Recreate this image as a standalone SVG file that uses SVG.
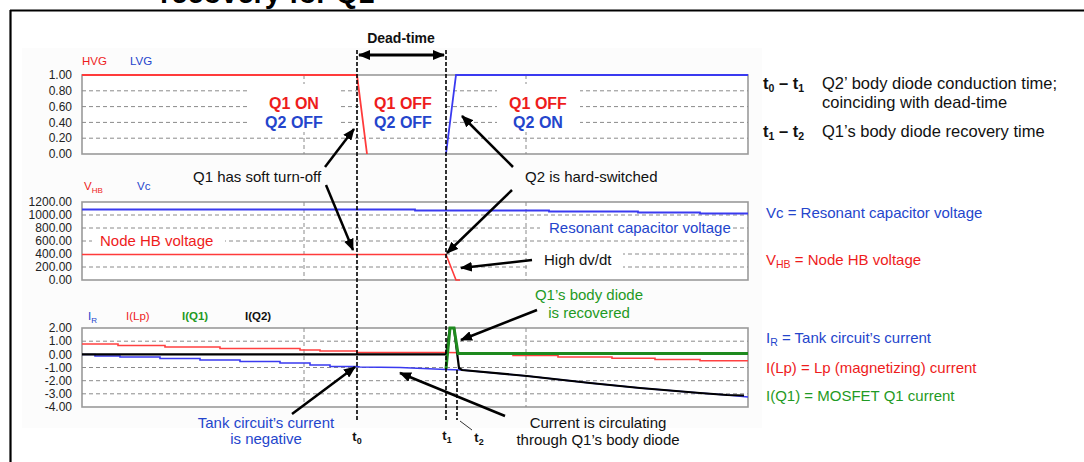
<svg xmlns="http://www.w3.org/2000/svg" width="1084" height="462" viewBox="0 0 1084 462">
  <defs>
    <style>
      .sans{font-family:"Liberation Sans",Arial,Helvetica,sans-serif}
      .tick{font-family:"Liberation Sans",Arial,sans-serif;font-size:12px;fill:#222;text-anchor:end}
      .ser{font-family:"Liberation Sans",Arial,sans-serif;font-size:11.5px}
      .lbl{font-family:"Liberation Sans",Arial,sans-serif;font-size:15px}
      .note{font-family:"Liberation Sans",Arial,sans-serif;font-size:16.5px;fill:#111}
      .state{font-family:"Liberation Sans",Arial,sans-serif;font-size:16px;font-weight:bold;text-anchor:middle}
      .plot{fill:#fff;stroke:#9a9a9a;stroke-width:1.6}
      .grid{stroke:#8a8a8a;stroke-width:1;stroke-dasharray:4 3;fill:none}
      .mask{fill:#fff}
      .arrow{stroke:#000;stroke-width:2.5;fill:none;marker-end:url(#ah)}
      .tline{stroke:#000;stroke-width:1.6;stroke-dasharray:4 2;fill:none}
      .red{fill:#ee1c1c}
      .blue{fill:#2445cc}
      .green{fill:#1f9a24}
      .blk{fill:#111}
    </style>
    <marker id="ah" viewBox="0 0 12 10" refX="11" refY="5" markerWidth="4.8" markerHeight="4" orient="auto" markerUnits="strokeWidth">
      <path d="M0,0 L12,5 L0,10 z" fill="#000"/>
    </marker>
    <marker id="ah2" viewBox="0 0 12 10" refX="11" refY="5" markerWidth="4" markerHeight="3.4" orient="auto-start-reverse" markerUnits="strokeWidth">
      <path d="M0,0 L12,5 L0,10 z" fill="#000"/>
    </marker>
  </defs>

  <rect width="1084" height="462" fill="#fff"/>

  <!-- caption (runs off the top edge) and page frame -->
  <text class="sans" x="160" y="2.5" font-size="29" font-weight="bold" fill="#000">recovery for Q1</text>
  <path d="M10,10.5 H1084 M10.5,10 V462" stroke="#000" stroke-width="2.2" fill="none"/>

  <!-- chart background -->
  <rect x="22" y="48" width="740" height="380" fill="#fcfcfc"/>

  <!-- gate drive panel -->
  <g id="panel-gate">
    <rect class="plot" x="82" y="75" width="666" height="79"/>
    <path class="grid" d="M82,90.8H748 M82,106.6H748 M82,122.4H748 M82,138.2H748 M304,75V154 M526,75V154"/>
    <rect class="mask" x="250" y="84" width="88" height="48"/>
    <rect class="mask" x="359" y="84" width="86" height="48"/>
    <rect class="mask" x="497" y="84" width="83" height="48"/>
    <g class="tick">
      <text x="72" y="79">1.00</text>
      <text x="72" y="95">0.80</text>
      <text x="72" y="110.5">0.60</text>
      <text x="72" y="126.5">0.40</text>
      <text x="72" y="142">0.20</text>
      <text x="72" y="158">0.00</text>
    </g>
    <text class="ser red" x="82" y="65">HVG</text>
    <text class="ser blue" x="130" y="65">LVG</text>
    <polyline points="82,75 357,75 367,154" fill="none" stroke="#ff3b3b" stroke-width="1.8"/>
    <polyline points="446,154 456,75 748,75" fill="none" stroke="#3a3af0" stroke-width="1.8"/>
  </g>

  <!-- bridge voltage panel -->
  <g id="panel-voltage">
    <rect class="plot" x="82" y="202" width="666" height="78"/>
    <path class="grid" d="M82,215H748 M82,228H748 M82,241H748 M446,254H748 M82,267H748 M304,202V280 M526,202V280"/>
    <rect class="mask" x="92" y="233" width="133" height="16"/>
    <rect class="mask" x="540" y="220" width="190" height="15"/>
    <rect class="mask" x="527" y="249" width="96" height="24"/>
    <g class="tick">
      <text x="72" y="206">1200.00</text>
      <text x="72" y="219">1000.00</text>
      <text x="72" y="232">800.00</text>
      <text x="72" y="245">600.00</text>
      <text x="72" y="258">400.00</text>
      <text x="72" y="271">200.00</text>
      <text x="72" y="284">0.00</text>
    </g>
    <text class="ser red" x="84" y="190">V<tspan font-size="8" dy="3">HB</tspan></text>
    <text class="ser blue" x="137" y="190">Vc</text>
    <polyline points="82,209.5 415,209.5 415,210.5 549,210.5 549,211.5 638,211.5 638,212.5 700,212.5 700,213.5 748,213.5" fill="none" stroke="#3a3af0" stroke-width="1.8"/>
    <polyline points="82,254.5 446,254.5 456,280 460,280" fill="none" stroke="#ff3b3b" stroke-width="1.6"/>
  </g>

  <!-- current panel -->
  <g id="panel-current">
    <rect class="plot" x="82" y="328" width="666" height="79"/>
    <path class="grid" d="M82,341.2H748 M82,367.5H748 M82,380.7H748 M82,393.8H748 M304,328V407 M526,328V407"/>
    <g class="tick">
      <text x="72" y="332">2.00</text>
      <text x="72" y="345">1.00</text>
      <text x="72" y="358.5">0.00</text>
      <text x="72" y="371.5">-1.00</text>
      <text x="72" y="384.5">-2.00</text>
      <text x="72" y="398">-3.00</text>
      <text x="72" y="411">-4.00</text>
    </g>
    <text class="ser blue" x="88" y="320">I<tspan font-size="8" dy="3">R</tspan></text>
    <text class="ser red" x="126" y="320">I(Lp)</text>
    <text class="ser green" x="182" y="320" font-weight="bold">I(Q1)</text>
    <text class="ser blk" x="245" y="320" font-weight="bold">I(Q2)</text>
    <!-- I(Lp) -->
    <polyline points="82,344 118,344 118,345.5 165,345.5 165,347 220,347 220,348.5 300,348.5 300,350 320,350 320,351 357,351 357,352.5 446,352.5 513,353.5 513,355.5 558,355.5 558,357 612,357 612,358.3 655,358.3 655,359.5 700,359.5 700,360.7 748,360.7" fill="none" stroke="#ff4040" stroke-width="1.6"/>
    <!-- I_R -->
    <polyline points="82,354.5 95,354.5 95,356 120,356 120,357 160,357 160,358.5 200,358.5 200,360 240,360 240,361.5 280,361.5 280,363 310,363 310,365 330,365 330,366.5 357,366.5 360,367 400,367.5 446,369.5 462,370 527,376 590,383 640,388 700,393 727,395 748,397" fill="none" stroke="#3a3af0" stroke-width="1.6"/>
    <!-- I(Q2) -->
    <polyline points="82,354.3 446,354.3 450,328 454,328 459,368 462,370 527,376 590,383 640,388 700,393 727,395 744,395.5" fill="none" stroke="#000" stroke-width="2.2"/>
    <!-- I(Q1) -->
    <polyline points="446,369 450,328 454,328 458,353.5 748,353.5" fill="none" stroke="#1e8a1e" stroke-width="3"/>
  </g>

  <!-- interval markers and annotation arrows -->
  <g id="connectors">
    <path class="tline" d="M357,50V422 M446,50V420 M457,370V420"/>
    <path d="M460,421 L472,430" stroke="#000" stroke-width="0.8" fill="none"/>
    <line x1="359" y1="55" x2="444" y2="55" stroke="#000" stroke-width="3" marker-start="url(#ah2)" marker-end="url(#ah2)"/>
    <line class="arrow" x1="325" y1="167" x2="354" y2="129"/>
    <line class="arrow" x1="326" y1="185" x2="353" y2="250"/>
    <line class="arrow" x1="513" y1="167" x2="462" y2="116"/>
    <line class="arrow" x1="512" y1="190" x2="447" y2="253"/>
    <line class="arrow" x1="532" y1="260" x2="461" y2="268"/>
    <line class="arrow" x1="537" y1="310" x2="461" y2="340"/>
    <line class="arrow" x1="292" y1="414" x2="355" y2="367"/>
    <line class="arrow" x1="505" y1="416" x2="400" y2="373"/>
  </g>

  <!-- switch state labels -->
  <g id="state-q1on">
    <text class="state" x="294" y="109" fill="#ee1c1c">Q1 ON</text>
    <text class="state" x="294" y="128" fill="#2445cc">Q2 OFF</text>
  </g>
  <g id="state-deadtime">
    <text class="state" x="403" y="109" fill="#ee1c1c">Q1 OFF</text>
    <text class="state" x="403" y="128" fill="#2445cc">Q2 OFF</text>
  </g>
  <g id="state-q2on">
    <text class="state" x="538" y="109" fill="#ee1c1c">Q1 OFF</text>
    <text class="state" x="538" y="128" fill="#2445cc">Q2 ON</text>
  </g>

  <g id="label-deadtime">
    <text class="sans" x="401" y="43" font-size="14" font-weight="bold" text-anchor="middle" fill="#111">Dead-time</text>
  </g>

  <!-- annotations -->
  <g id="note-soft"><text class="lbl blk" x="193" y="182">Q1 has soft turn-off</text></g>
  <g id="note-hard"><text class="lbl blk" x="525" y="182">Q2 is hard-switched</text></g>
  <g id="note-node"><text class="lbl red" x="100" y="246">Node HB voltage</text></g>
  <g id="note-res"><text class="lbl blue" x="549" y="233">Resonant capacitor voltage</text></g>
  <g id="note-dvdt"><text class="lbl blk" x="544" y="265">High dv/dt</text></g>
  <g id="note-recovered">
    <text class="lbl green" x="589" y="300" text-anchor="middle">Q1’s body diode</text>
    <text class="lbl green" x="589" y="318" text-anchor="middle">is recovered</text>
  </g>
  <g id="note-negative">
    <text class="lbl blue" x="266" y="428" text-anchor="middle">Tank circuit’s current</text>
    <text class="lbl blue" x="266" y="444" text-anchor="middle">is negative</text>
  </g>
  <g id="note-circulating">
    <text class="lbl blk" x="598" y="428" text-anchor="middle">Current is circulating</text>
    <text class="lbl blk" x="598" y="445" text-anchor="middle">through Q1’s body diode</text>
  </g>

  <!-- time instants -->
  <g id="t0"><text class="sans blk" x="357" y="441" font-size="13" font-weight="bold" text-anchor="middle">t<tspan font-size="9" dy="3">0</tspan></text></g>
  <g id="t1"><text class="sans blk" x="447" y="440" font-size="13" font-weight="bold" text-anchor="middle">t<tspan font-size="9" dy="3">1</tspan></text></g>
  <g id="t2"><text class="sans blk" x="479" y="442" font-size="13" font-weight="bold" text-anchor="middle">t<tspan font-size="9" dy="3">2</tspan></text></g>

  <!-- interval legend -->
  <g id="legend-intervals">
    <text class="note" x="763" y="89" font-weight="bold">t<tspan font-size="10.5" dy="3">0</tspan><tspan dy="-3"> – t</tspan><tspan font-size="10.5" dy="3">1</tspan></text>
    <text class="note" x="822" y="89">Q2’ body diode conduction time;</text>
    <text class="note" x="822" y="108">coinciding with dead-time</text>
    <text class="note" x="763" y="137" font-weight="bold">t<tspan font-size="10.5" dy="3">1</tspan><tspan dy="-3"> – t</tspan><tspan font-size="10.5" dy="3">2</tspan></text>
    <text class="note" x="822" y="137">Q1’s body diode recovery time</text>
  </g>

  <!-- trace legend -->
  <g id="legend-traces">
    <text class="lbl blue" x="766" y="218">Vc = Resonant capacitor voltage</text>
    <text class="lbl red" x="766" y="265">V<tspan font-size="10.5" dy="3">HB</tspan><tspan dy="-3"> = Node HB voltage</tspan></text>
    <text class="lbl blue" x="766" y="343">I<tspan font-size="10.5" dy="3">R</tspan><tspan dy="-3"> = Tank circuit’s current</tspan></text>
    <text class="lbl red" x="766" y="373">I(Lp) = Lp (magnetizing) current</text>
    <text class="lbl green" x="766" y="401">I(Q1) = MOSFET Q1 current</text>
  </g>
</svg>
